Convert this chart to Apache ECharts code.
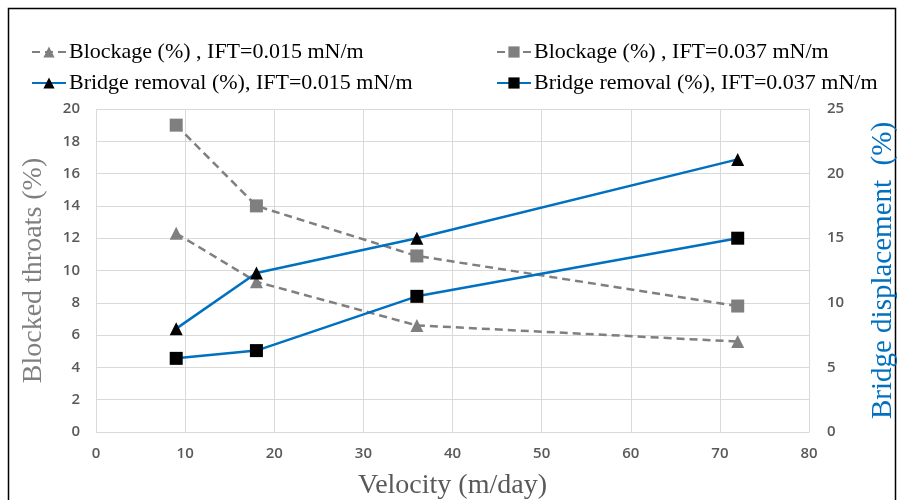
<!DOCTYPE html>
<html><head><meta charset="utf-8">
<script src="https://cdn.jsdelivr.net/npm/echarts@6/dist/echarts.min.js"></script>
<style>html,body{margin:0;padding:0;background:#fff}#c{width:897px;height:500px}</style>
</head><body><div id="c"></div>
<script>
const velocity = [9, 18, 36, 72];
const blockage015 = [12.3, 9.3, 6.6, 5.6];
const blockage037 = [19.0, 14.0, 10.9, 7.8];
const bridge015 = [8.0, 12.3, 15.0, 21.1];
const bridge037 = [5.7, 6.3, 10.5, 15.0];
const names = ['Blockage (%) , IFT=0.015 mN/m', 'Bridge removal (%), IFT=0.015 mN/m',
               'Blockage (%) , IFT=0.037 mN/m', 'Bridge removal (%), IFT=0.037 mN/m'];
const pair = (xs, ys) => xs.map((x, i) => [x, ys[i]]);

const chart = echarts.init(document.getElementById('c'), null, {renderer: 'canvas'});
const serif = '"Liberation Serif", "DejaVu Serif", serif';
const tickFont = {color: '#595959', fontSize: 15, fontFamily: '"Open Sans", sans-serif', fontWeight: 600};
const legendText = {fontFamily: serif, fontSize: 22, color: '#000', padding: [0, 0, 0, -2]};
chart.setOption({
  animation: false,
  graphic: [{type: 'rect', shape: {x: 8.5, y: 8.5, width: 887, height: 500}, style: {fill: 'none', stroke: '#000', lineWidth: 1.5}}],
  legend: [
    {data: [names[0], names[1]], orient: 'vertical', left: 26, top: 36, itemGap: 9, itemWidth: 34, itemHeight: 14, textStyle: legendText},
    {data: [names[2], names[3]], orient: 'vertical', left: 491, top: 36, itemGap: 9, itemWidth: 34, itemHeight: 14, textStyle: legendText}
  ],
  grid: {left: 96, right: 88, top: 109, bottom: 68, containLabel: false, outerBoundsMode: 'none'},
  xAxis: {
    type: 'value', min: 0, max: 80, interval: 10,
    name: 'Velocity (m/day)', nameLocation: 'middle', nameGap: 40,
    nameTextStyle: {fontFamily: serif, fontSize: 28, color: '#595959'},
    axisLine: {show: false}, axisTick: {show: false},
    axisLabel: Object.assign({margin: 14}, tickFont),
    splitLine: {show: true, lineStyle: {color: '#d9d9d9', width: 1}}
  },
  yAxis: [{
    type: 'value', min: 0, max: 20, interval: 2,
    name: 'Blocked throats (%)', nameLocation: 'middle', nameRotate: 90, nameGap: 48,
    nameTextStyle: {fontFamily: serif, fontSize: 28, color: '#7f7f7f'},
    axisLine: {show: false}, axisTick: {show: false},
    axisLabel: Object.assign({margin: 16}, tickFont),
    splitLine: {show: true, lineStyle: {color: '#d9d9d9', width: 1}}
  }, {
    type: 'value', min: 0, max: 25, interval: 5, position: 'right',
    name: 'Bridge displacement  (%)', nameLocation: 'middle', nameRotate: 90, nameGap: 60,
    nameTextStyle: {fontFamily: serif, fontSize: 29, color: '#0070c0'},
    axisLine: {show: true, lineStyle: {color: '#d9d9d9'}}, axisTick: {show: false},
    axisLabel: Object.assign({margin: 18}, tickFont),
    splitLine: {show: false}
  }],
  series: [
    {name: names[0], type: 'line', yAxisIndex: 0, data: pair(velocity, blockage015),
     symbol: 'triangle', symbolSize: 13, itemStyle: {color: '#7f7f7f'},
     lineStyle: {color: '#7f7f7f', width: 2.5, type: [8, 5]}},
    {name: names[2], type: 'line', yAxisIndex: 0, data: pair(velocity, blockage037),
     symbol: 'rect', symbolSize: 13, itemStyle: {color: '#7f7f7f'},
     lineStyle: {color: '#7f7f7f', width: 2.5, type: [8, 5]}},
    {name: names[1], type: 'line', yAxisIndex: 1, data: pair(velocity, bridge015),
     symbol: 'triangle', symbolSize: 13, itemStyle: {color: '#000'},
     lineStyle: {color: '#0070c0', width: 2.5}},
    {name: names[3], type: 'line', yAxisIndex: 1, data: pair(velocity, bridge037),
     symbol: 'rect', symbolSize: 13, itemStyle: {color: '#000'},
     lineStyle: {color: '#0070c0', width: 2.5}}
  ]
});
</script></body></html>
